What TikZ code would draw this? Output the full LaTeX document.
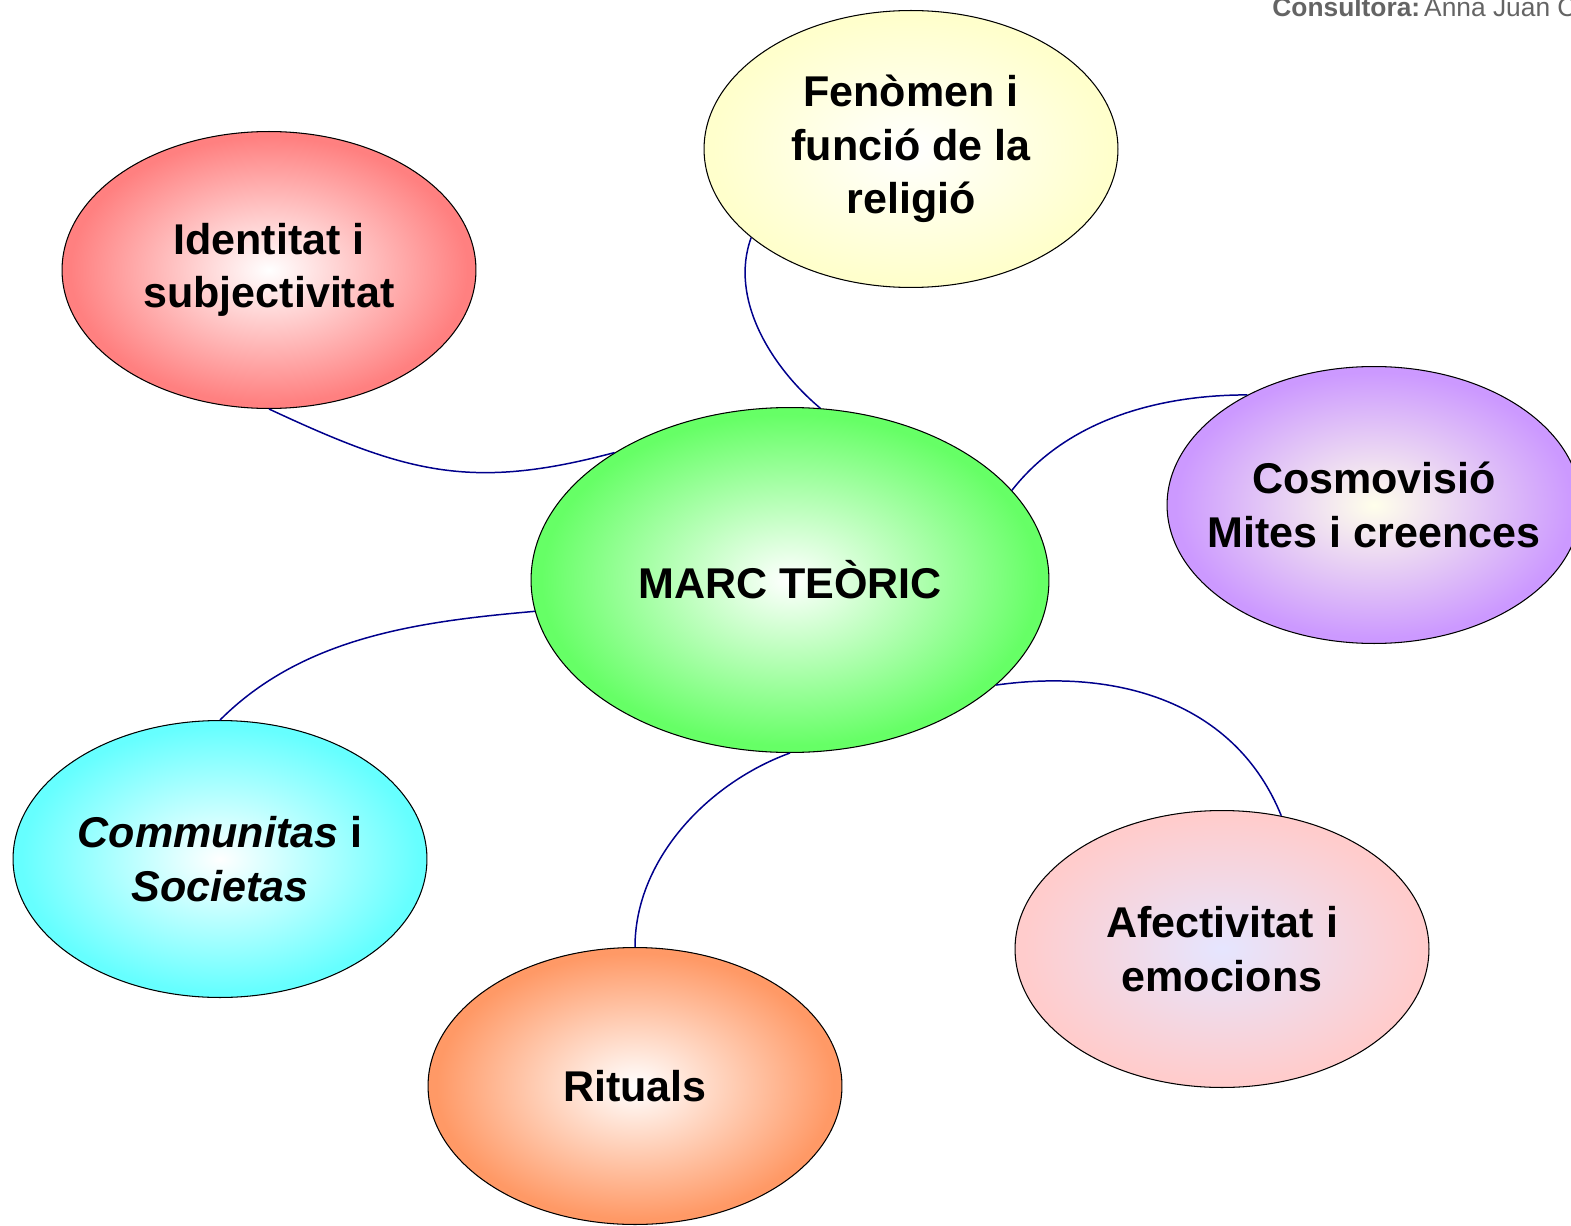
\documentclass[tikz,border=0pt]{standalone}
\usepackage{fontspec}
\setmainfont{Liberation Sans}
\usetikzlibrary{shapes.geometric}

% radial glow, white core to the bubble colour
\colorlet{glowin}{white}
\colorlet{glowout}{white}
\pgfdeclareradialshading[glowin,glowout]{glow}{\pgfpoint{0bp}{0bp}}{%
  color(0bp)=(glowin); color(24bp)=(glowout); color(50bp)=(glowout)}

\definecolor{bubred}{RGB}{255,128,128}
\definecolor{bubyellow}{RGB}{255,255,204}
\definecolor{bubpurple}{RGB}{204,153,255}
\definecolor{bubgreen}{RGB}{102,255,102}
\definecolor{bubcyan}{RGB}{102,255,255}
\definecolor{buborange}{RGB}{255,153,102}
\definecolor{bubpink}{RGB}{255,204,204}
\definecolor{linkblue}{RGB}{0,0,140}
\definecolor{notegray}{RGB}{100,100,100}

\tikzset{
  bubble/.style={
    ellipse, draw=black, line width=0.6pt, shade, shading=glow,
    minimum width=8.28cm, minimum height=5.54cm,
    inner xsep=-0.6cm, inner ysep=0pt,
    align=center, font=\fontsize{24.5}{30.5}\selectfont\bfseries
  },
  bigbubble/.style={
    bubble, minimum width=10.36cm, minimum height=6.9cm
  },
  tint/.code={\colorlet{glowout}{#1}},
  core/.code={\colorlet{glowin}{#1}},
  link/.style={draw=linkblue, line width=0.85pt},
  note/.style={text=notegray, font=\fontsize{15}{17}\selectfont, inner sep=0pt}
}

\begin{document}
\begin{tikzpicture}[x=0.02cm, y=-0.02cm]
\useasboundingbox (0,0) rectangle (1571,1226);

% ── Header ───────────────────────────────────────────────────────────────────
\node[note, anchor=base west] (consult) at (1272,16.5)
  {\textbf{Consultora:}\hspace{0.15em}Anna Juan C};

% ── Bubbles ──────────────────────────────────────────────────────────────────
\node[bubble, tint=bubred] (identitat) at (269,270)
  {Identitat i\\subjectivitat};
\node[bubble, tint=bubyellow] (fenomen) at (911,149)
  {Fenòmen i\\funció de la\\religió};
\node[bubble, tint=bubpurple, core={white!92!yellow}] (cosmo) at (1374,505)
  {Cosmovisió\\Mites i creences};
\node[bubble, tint=bubcyan] (communitas) at (220,859)
  {\textit{Communitas} i\\\textit{Societas}};
\node[bubble, tint=buborange] (rituals) at (635,1086)
  {Rituals};
\node[bubble, tint=bubpink, core={white!90!blue}] (afect) at (1222,949)
  {Afectivitat i\\emocions};
\node[bigbubble, tint=bubgreen] (marc) at (790,580)
  {MARC TEÒRIC};

% ── Links ────────────────────────────────────────────────────────────────────
\draw[link] (identitat.south) to[out=-25, in=195, looseness=1.1] (marc.144);
\draw[link] (fenomen.209) to[out=-110, in=140, looseness=0.9] (marc.80);
\draw[link] (marc.22) to[out=52, in=180, looseness=0.9] (cosmo.139);
\draw[link] (marc.187) to[out=185, in=45, looseness=0.9] (communitas.north);
\draw[link] (marc.south) to[out=200, in=90, looseness=0.9] (rituals.north);
\draw[link] (marc.-27) to[out=8, in=112, looseness=1.0] (afect.66);

\end{tikzpicture}
\end{document}
